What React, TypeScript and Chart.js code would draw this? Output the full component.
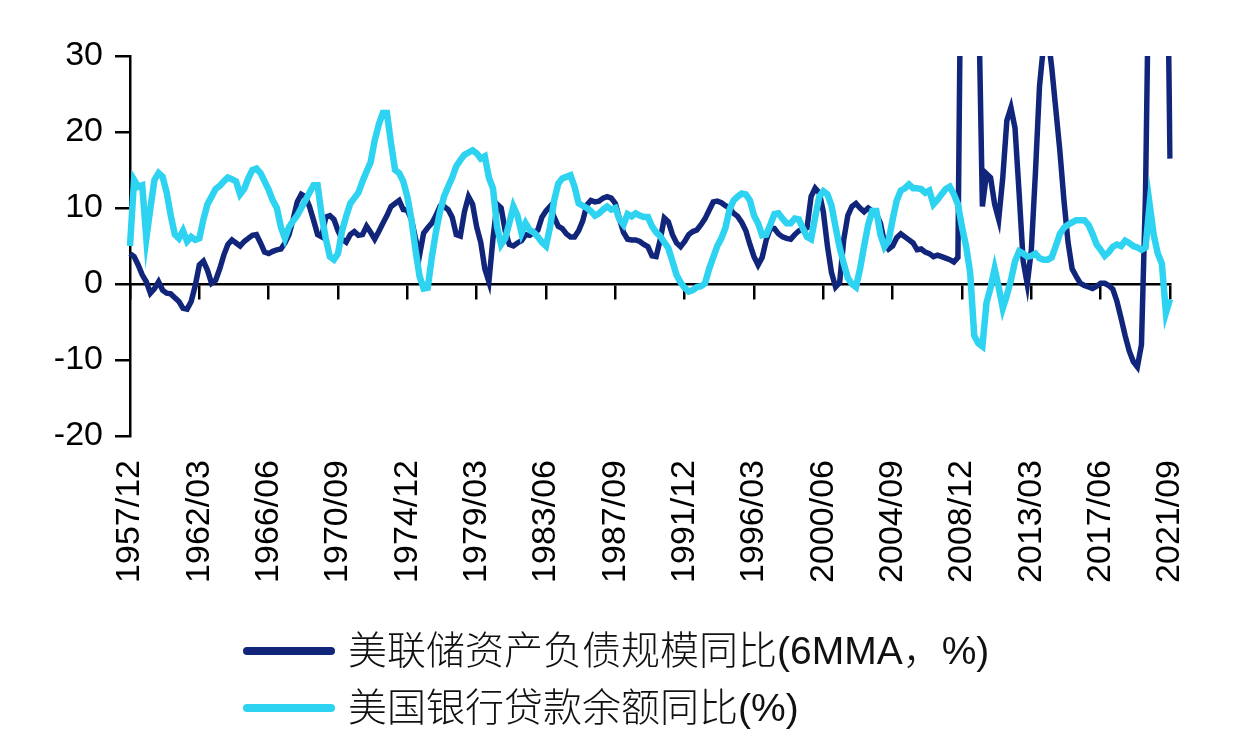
import React, { useEffect, useRef } from 'react';
import { Chart, registerables } from 'chart.js';

Chart.register(...registerables);

// Quarterly categories from 1957/12 to 2021/09
const START_YEAR = 1957;
const START_MONTH = 12;
const N_QUARTERS = 256;
const categories: string[] = [];
for (let k = 0; k < N_QUARTERS; k++) {
  const m = START_MONTH - 1 + 3 * k;
  const y = START_YEAR + Math.floor(m / 12);
  const mm = (m % 12) + 1;
  categories.push(`${y}/${String(mm).padStart(2, '0')}`);
}

const tickLabels = [
  '1957/12', '1962/03', '1966/06', '1970/09', '1974/12', '1979/03', '1983/06', '1987/09',
  '1991/12', '1996/03', '2000/06', '2004/09', '2008/12', '2013/03', '2017/06', '2021/09',
];

// 美联储资产负债规模同比 (6MMA, %)
const fedBalanceSheetYoY = [
  4.0, 3.6, 2.5, 1.2, 0.3, -1.2, -0.6, 0.3, -0.8, -1.2, -1.3, -1.8, -2.3, -3.2, -3.3, -2.3, -0.2,
  2.5, 3.0, 1.8, 0.1, 0.5, 2.0, 3.8, 5.2, 5.8, 5.4, 5.0, 5.6, 6.0, 6.4, 6.5, 5.4, 4.2,
  4.0, 4.3, 4.5, 4.6, 5.4, 6.5, 8.5, 10.8, 11.8, 11.5, 10.2, 8.4, 6.5, 6.2, 8.8, 9.0, 8.5,
  7.0, 5.9, 5.5, 6.5, 6.9, 6.4, 6.5, 7.6, 6.8, 5.9, 6.9, 8.0, 9.0, 10.2, 10.6, 11.0, 9.8,
  9.7, 8.5, 6.0, 3.8, 6.7, 7.4, 8.0, 9.0, 10.2, 10.2, 9.8, 8.8, 6.5, 6.3, 9.5, 11.5, 10.5,
  7.5, 5.5, 2.0, 0.3, 6.0, 10.5, 10.0, 7.0, 5.2, 5.0, 5.4, 5.7, 6.5, 6.4, 6.8, 7.1, 8.8,
  9.6, 10.2, 8.8, 7.6, 7.3, 6.6, 6.2, 6.2, 7.0, 8.3, 10.4, 11.0, 10.8, 10.9, 11.3, 11.5, 11.3,
  10.6, 8.6, 6.8, 5.9, 5.8, 5.8, 5.6, 5.2, 4.9, 3.7, 3.6, 5.8, 8.7, 8.2, 6.5, 5.4, 4.9,
  5.6, 6.5, 6.9, 7.1, 7.8, 8.6, 9.7, 10.8, 10.9, 10.7, 10.3, 10.0, 9.3, 8.9, 8.1, 7.0, 5.2,
  3.6, 2.5, 3.5, 5.8, 7.3, 7.3, 6.6, 6.2, 6.0, 5.9, 6.5, 7.0, 7.2, 7.4, 11.5, 12.6, 12.0,
  9.5, 5.0, 1.5, -0.4, 0.2, 5.8, 9.0, 10.2, 10.6, 10.0, 9.5, 10.0, 9.6, 9.2, 8.0, 5.4, 4.6,
  5.0, 6.1, 6.6, 6.2, 5.8, 5.4, 4.5, 4.6, 4.2, 4.0, 3.6, 3.8, 3.6, 3.4, 3.2, 2.9, 3.5,
  60, 120, 140, 100, 40, 10.2, 14.5, 14.0, 10.5, 8.5, 14.0, 21.5, 23.2, 20.5, 12.0, 3.0, 0.0,
  4.5, 14.6, 26.0, 31.5, 33.0, 28.5, 23.0, 17.5, 11.0, 5.5, 2.0, 1.0, 0.1, -0.2, -0.4, -0.6, -0.3,
  0.1, 0.1, -0.2, -0.7, -2.3, -4.5, -6.8, -8.8, -10.2, -10.9, -8.0, 12.0, 50, 75, 80, 70, 60, 16.5,
];

// 美国银行贷款余额同比 (%)
const bankLoansYoY = [
  5.0, 13.7, 12.8, 13.0, 6.0, 10.0, 13.7, 14.6, 14.1, 12.0, 9.0, 6.5, 6.0, 7.0, 5.6, 6.2, 5.8,
  6.0, 8.5, 10.5, 11.5, 12.5, 12.9, 13.5, 14.0, 13.8, 13.5, 11.8, 12.5, 13.9, 15.0, 15.2, 14.6, 13.5,
  12.4, 11.0, 10.0, 7.5, 6.0, 7.5, 8.3, 9.0, 10.0, 11.0, 12.0, 13.0, 13.0, 9.0, 6.0, 3.6, 3.2,
  4.0, 7.0, 8.9, 10.6, 11.3, 12.0, 13.5, 14.8, 16.0, 18.9, 21.0, 22.5, 22.5, 18.5, 15.0, 14.6, 13.5,
  11.5, 8.5, 4.5, 1.0, -0.6, -0.5, 3.5, 6.8, 9.5, 11.5, 12.8, 14.0, 15.5, 16.3, 17.0, 17.3, 17.6,
  17.2, 16.5, 16.8, 14.0, 12.6, 7.5, 5.2, 6.0, 8.0, 10.2, 9.0, 6.7, 8.0, 7.1, 6.8, 6.2, 5.5,
  5.0, 7.5, 11.0, 13.2, 13.9, 14.1, 14.3, 12.8, 10.6, 10.3, 10.0, 9.6, 9.0, 9.3, 9.8, 10.2, 9.8,
  10.0, 8.5, 7.8, 9.2, 8.9, 9.3, 9.0, 8.8, 8.8, 7.6, 6.8, 6.3, 5.5, 4.7, 3.0, 1.2, 0.2,
  -0.5, -1.0, -0.8, -0.4, -0.3, 0.1, 2.0, 3.5, 5.0, 6.0, 7.4, 9.8, 11.0, 11.5, 11.9, 11.8, 11.0,
  9.0, 8.0, 6.4, 6.5, 7.8, 9.2, 9.3, 8.6, 8.0, 8.0, 8.6, 8.5, 7.3, 6.2, 5.9, 8.8, 11.5,
  12.2, 11.8, 10.3, 7.5, 4.8, 2.7, 0.8, 0.0, -0.4, 2.0, 5.0, 7.8, 9.6, 9.6, 6.5, 4.9, 5.7,
  8.5, 11.0, 12.3, 12.6, 13.1, 12.6, 12.6, 12.5, 12.0, 12.3, 10.5, 11.1, 11.8, 12.5, 12.8, 11.8, 10.5,
  7.5, 5.0, 1.5, -6.8, -7.8, -8.2, -2.5, -0.5, 2.0, -0.4, -3.2, -1.5, 0.5, 3.0, 4.3, 4.0, 3.6,
  3.7, 4.0, 3.4, 3.2, 3.2, 3.5, 5.0, 6.6, 7.4, 7.8, 8.1, 8.4, 8.4, 8.4, 7.8, 6.6, 5.2,
  4.5, 3.7, 4.2, 4.9, 5.2, 5.0, 5.7, 5.4, 5.0, 4.8, 4.5, 4.8, 10.5, 6.5, 4.0, 2.7, -3.8, -2.0,
];

const seriesNames = ['美联储资产负债规模同比(6MMA，%)', '美国银行贷款余额同比(%)'];
const seriesColors = ['#11267a', '#2dd3f0'];
const seriesWidths = [5.5, 6.5];

const Y_MIN = -20;
const Y_MAX = 30;
const Y_STEP = 10;

const keepTick = (scale: any) => {
  scale.ticks = scale.ticks.filter((t: any) => tickLabels.includes(categories[t.value]));
};

export default function App() {
  const canvasRef = useRef<HTMLCanvasElement>(null);

  useEffect(() => {
    if (!canvasRef.current) return;
    const chart = new Chart(canvasRef.current, {
      type: 'line',
      data: {
        labels: categories,
        datasets: [
          {
            label: seriesNames[0],
            data: fedBalanceSheetYoY,
            borderColor: seriesColors[0],
            backgroundColor: seriesColors[0],
            borderWidth: seriesWidths[0],
            pointRadius: 0,
            tension: 0,
            fill: false,
            order: 1,
            xAxisID: 'x',
            yAxisID: 'y',
          },
          {
            label: seriesNames[1],
            data: bankLoansYoY,
            borderColor: seriesColors[1],
            backgroundColor: seriesColors[1],
            borderWidth: seriesWidths[1],
            pointRadius: 0,
            tension: 0,
            fill: false,
            order: 0,
            xAxisID: 'x',
            yAxisID: 'y',
          },
        ],
      },
      options: {
        animation: false,
        responsive: false,
        events: [],
        layout: { padding: { top: 56, right: 70, bottom: 150, left: 0 } },
        plugins: {
          legend: { display: false },
          tooltip: { enabled: false },
        },
        scales: {
          x: {
            type: 'category',
            position: { y: 0 } as any,
            offset: false,
            afterBuildTicks: keepTick,
            ticks: { display: false, autoSkip: false },
            grid: {
              display: true,
              drawOnChartArea: false,
              drawTicks: true,
              tickLength: 14,
              color: '#000',
              lineWidth: 2.5,
            },
            border: { display: true, color: '#000', width: 2.5 },
          },
          x2: {
            type: 'category',
            axis: 'x',
            position: 'bottom',
            offset: false,
            afterBuildTicks: keepTick,
            afterFit: (scale: any) => {
              scale.height = 160;
            },
            ticks: {
              autoSkip: false,
              minRotation: 90,
              maxRotation: 90,
              padding: 24,
              color: '#000',
              font: { family: '"Liberation Sans", Arial, sans-serif', size: 34 },
            },
            grid: { display: false, drawTicks: false },
            border: { display: false },
          },
          y: {
            type: 'linear',
            position: 'left',
            min: Y_MIN,
            max: Y_MAX,
            afterFit: (scale: any) => {
              scale.width = 130;
            },
            ticks: {
              stepSize: Y_STEP,
              padding: 12,
              color: '#000',
              font: { family: '"Liberation Sans", Arial, sans-serif', size: 34 },
            },
            grid: {
              drawOnChartArea: false,
              drawTicks: true,
              tickLength: 15,
              color: '#000',
              lineWidth: 2.5,
            },
            border: { display: true, color: '#000', width: 2.5 },
          },
        },
      },
    });
    return () => chart.destroy();
  }, []);

  const legendTops = [626, 683];

  return (
    <div
      style={{
        position: 'absolute',
        left: 0,
        top: 0,
        width: 1240,
        height: 746,
        background: '#ffffff',
        overflow: 'hidden',
      }}
    >
      <canvas ref={canvasRef} width={1240} height={746} style={{ position: 'absolute', left: 0, top: 0 }} />
      {seriesNames.map((name, i) => (
        <div
          key={name}
          style={{
            position: 'absolute',
            left: 243,
            top: legendTops[i],
            height: 50,
            display: 'flex',
            alignItems: 'center',
          }}
        >
          <div style={{ width: 92, height: 8, borderRadius: 4, background: seriesColors[i] }} />
          <span
            style={{
              marginLeft: 13,
              fontFamily: '"Liberation Sans", "Noto Sans CJK SC", sans-serif',
              fontWeight: 300,
              fontSize: 39,
              lineHeight: '50px',
              color: '#111',
              whiteSpace: 'nowrap',
            }}
          >
            {name}
          </span>
        </div>
      ))}
    </div>
  );
}
